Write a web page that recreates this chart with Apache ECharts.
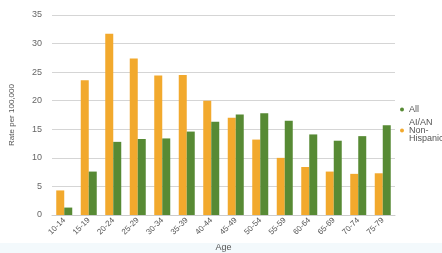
<!DOCTYPE html>
<html><head><meta charset="utf-8">
<script src="https://cdn.jsdelivr.net/npm/echarts@6/dist/echarts.min.js"></script>
<style>html,body{margin:0;padding:0;background:#fff}#c{width:442px;height:253px}</style>
</head><body><div id="c"></div>
<script>
var categories = ['10-14','15-19','20-24','25-29','30-34','35-39','40-44','45-49','50-54','55-59','60-64','65-69','70-74','75-79'];
var aian = [4.3, 23.6, 31.7, 27.4, 24.4, 24.5, 20.0, 17.0, 13.2, 10.0, 8.4, 7.6, 7.2, 7.3];
var all = [1.3, 7.6, 12.8, 13.3, 13.4, 14.6, 16.3, 17.6, 17.8, 16.5, 14.1, 13.0, 13.8, 15.7];
var yTicks = {min: 0, max: 35, interval: 5};

var chart = echarts.init(document.getElementById('c'));
chart.setOption({
  animation: false,
  graphic: [{type: 'rect', left: 0, top: 243, shape: {width: 442, height: 10}, style: {fill: '#f3f9fc'}, z: -1}],
  grid: {left: 52, right: 47, top: 15, bottom: 38, outerBoundsMode: 'none', containLabel: false},
  legend: {
    orient: 'vertical', left: 395, top: 100,
    data: ['All', 'AI/AN\nNon-\nHispanic'],
    icon: 'circle', itemWidth: 4, itemHeight: 4, itemGap: 4,
    textStyle: {fontSize: 9, color: '#555', fontFamily: 'Helvetica, Arial, sans-serif', lineHeight: 8}
  },
  xAxis: {
    type: 'category', data: categories,
    name: 'Age', nameLocation: 'middle', nameGap: 28,
    nameTextStyle: {fontSize: 9, color: '#555'},
    axisTick: {show: false},
    axisLine: {lineStyle: {color: '#ccc'}},
    axisLabel: {rotate: 45, fontSize: 8, color: '#555', interval: 0, margin: 4}
  },
  yAxis: {
    type: 'value', min: yTicks.min, max: yTicks.max, interval: yTicks.interval,
    name: 'Rate per 100,000', nameLocation: 'middle', nameGap: 36, nameRotate: 90,
    nameTextStyle: {fontSize: 8, color: '#555'},
    axisLabel: {fontSize: 9, color: '#666', margin: 10},
    splitLine: {lineStyle: {color: '#d5d5d5'}}
  },
  series: [
    {name: 'AI/AN\nNon-\nHispanic', type: 'bar', data: aian, barWidth: 8, barGap: '0%', itemStyle: {color: '#F2A92D'}},
    {name: 'All', type: 'bar', data: all, barWidth: 8, barGap: '0%', itemStyle: {color: '#578A34'}}
  ]
});
</script></body></html>
